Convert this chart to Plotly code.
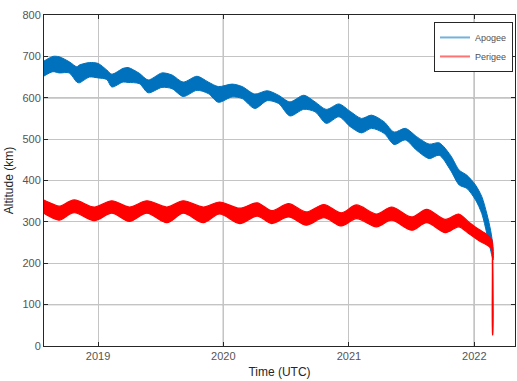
import pandas as pd
import plotly.graph_objects as go

# ---- data (decimal years, km) ----
apogee_upper_t = [2018.566, 2018.64, 2018.69, 2018.77, 2018.83, 2018.85, 2018.93, 2019.00, 2019.07, 2019.11,
                  2019.20, 2019.24, 2019.33, 2019.40, 2019.51, 2019.59, 2019.68, 2019.79, 2019.88, 2019.96,
                  2020.07, 2020.15, 2020.25, 2020.35, 2020.44, 2020.53, 2020.64, 2020.73, 2020.82, 2020.92,
                  2021.01, 2021.10, 2021.18, 2021.28, 2021.36, 2021.45, 2021.54, 2021.64, 2021.72, 2021.81,
                  2021.88, 2021.94, 2022.01, 2022.06, 2022.10, 2022.13, 2022.15, 2022.153]
apogee_upper = [688, 700, 699, 687, 675, 679, 685, 683, 667, 657,
                671, 673, 659, 643, 660, 655, 638, 652, 638, 627,
                633, 627, 609, 617, 606, 590, 606, 590, 572, 585,
                567, 550, 558, 542, 517, 526, 506, 488, 491, 461,
                425, 413, 389, 361, 320, 280, 240, 218]
apogee_lower_t = [2018.566, 2018.64, 2018.69, 2018.77, 2018.83, 2018.85, 2018.93, 2019.00, 2019.07, 2019.11,
                  2019.20, 2019.24, 2019.33, 2019.40, 2019.51, 2019.59, 2019.68, 2019.79, 2019.88, 2019.96,
                  2020.07, 2020.15, 2020.25, 2020.35, 2020.44, 2020.53, 2020.64, 2020.73, 2020.82, 2020.92,
                  2021.01, 2021.10, 2021.18, 2021.28, 2021.36, 2021.45, 2021.54, 2021.64, 2021.72, 2021.81,
                  2021.88, 2021.94, 2022.01, 2022.06, 2022.10, 2022.13, 2022.15]
apogee_lower = [652, 663, 660, 660, 638, 636, 650, 648, 644, 626,
                638, 637, 634, 612, 625, 622, 603, 618, 610, 589,
                602, 598, 574, 593, 586, 556, 572, 566, 538, 554,
                530, 515, 526, 514, 487, 498, 473, 453, 461, 425,
                389, 381, 353, 320, 272, 232, 208]

perigee_upper_t = [2018.566, 2018.64, 2018.69, 2018.81, 2018.97, 2019.11, 2019.25, 2019.39, 2019.55, 2019.68,
                   2019.84, 2019.97, 2020.13, 2020.27, 2020.385, 2020.52, 2020.66, 2020.80, 2020.94, 2021.06,
                   2021.22, 2021.34, 2021.50, 2021.62, 2021.77, 2021.875, 2021.955, 2022.035, 2022.10, 2022.14,
                   2022.145, 2022.147]
perigee_upper = [353, 343, 338, 353, 336, 351, 336, 351, 336, 351,
                 336, 348, 333, 346, 327, 344, 324, 342, 322, 341,
                 319, 336, 312, 330, 306, 319, 300, 282, 270, 256,
                 235, 27]
perigee_lower_t = [2018.566, 2018.64, 2018.69, 2018.81, 2018.97, 2019.11, 2019.25, 2019.39, 2019.55, 2019.68,
                   2019.84, 2019.97, 2020.13, 2020.27, 2020.385, 2020.52, 2020.66, 2020.80, 2020.94, 2021.06,
                   2021.22, 2021.34, 2021.50, 2021.62, 2021.77, 2021.875, 2021.955, 2022.035, 2022.10, 2022.14,
                   2022.144, 2022.146]
perigee_lower = [321, 309, 304, 322, 303, 321, 301, 321, 298, 321,
                 298, 319, 296, 314, 296, 312, 292, 310, 290, 308,
                 288, 304, 280, 298, 274, 288, 272, 255, 244, 234,
                 200, 27]

x_range = [2018.5687, 2022.325]
x_ticks = [2019, 2020, 2021, 2022]
x_ticklabels = ["2019", "2020", "2021", "2022"]
y_ticks = [0, 100, 200, 300, 400, 500, 600, 700, 800]
dark_y = [100, 400, 600]
dark_x = [2020, 2022]


def dec2dt(t):
    y = int(t)
    start = pd.Timestamp(year=y, month=1, day=1)
    days = 366 if (y % 4 == 0) else 365
    return start + pd.Timedelta(days=(t - y) * days)


def band(ut, uv, lt, lv):
    xs = [dec2dt(t) for t in ut] + [dec2dt(t) for t in lt[::-1]]
    ys = list(uv) + list(lv[::-1])
    return xs, ys


BLUE = "#0072BD"
RED = "#FF0000"

fig = go.Figure()
ax, ay = band(apogee_upper_t, apogee_upper, apogee_lower_t, apogee_lower)
fig.add_trace(go.Scatter(x=ax, y=ay, fill="toself", fillcolor=BLUE, mode="lines",
                         line=dict(color=BLUE, width=1, shape="spline", smoothing=0.8),
                         showlegend=False, hoverinfo="skip"))
px_, py_ = band(perigee_upper_t, perigee_upper, perigee_lower_t, perigee_lower)
fig.add_trace(go.Scatter(x=px_, y=py_, fill="toself", fillcolor=RED, mode="lines",
                         line=dict(color=RED, width=1.2, shape="spline", smoothing=0.9),
                         showlegend=False, hoverinfo="skip"))
# legend entries
fig.add_trace(go.Scatter(x=[None], y=[None], mode="lines", name="Apogee",
                         line=dict(color="rgba(0,114,189,0.55)", width=2)))
fig.add_trace(go.Scatter(x=[None], y=[None], mode="lines", name="Perigee",
                         line=dict(color="rgba(255,0,0,0.55)", width=2)))

for v in dark_y:
    fig.add_shape(type="line", xref="paper", x0=0, x1=1, yref="y", y0=v, y1=v,
                  line=dict(color="#4a4a4a", width=1), layer="below")
for v in dark_x:
    d = dec2dt(v)
    fig.add_shape(type="line", xref="x", x0=d, x1=d, yref="paper", y0=0, y1=1,
                  line=dict(color="#4a4a4a", width=1), layer="below")

tickfont = dict(family="Liberation Sans, Arial, sans-serif", size=11, color="#555555")
fig.update_layout(
    width=517, height=381,
    margin=dict(l=44, r=2, t=15, b=35),
    paper_bgcolor="white", plot_bgcolor="white",
    font=dict(family="Liberation Sans, Arial, sans-serif", size=11, color="#262626"),
    legend=dict(x=0.9958, y=0.979, xanchor="right", yanchor="top",
                bgcolor="white", bordercolor="#262626", borderwidth=1,
                font=dict(size=9, color="#505050"), tracegroupgap=0,
                itemwidth=30),
    xaxis=dict(
        type="date",
        range=[dec2dt(x_range[0]), dec2dt(x_range[1])],
        tickvals=[dec2dt(t) for t in x_ticks], ticktext=x_ticklabels,
        ticks="inside", ticklen=4, tickcolor="#262626",
        showline=True, linecolor="#262626", linewidth=1, mirror="allticks",
        showgrid=True, gridcolor="#c4c4c4", gridwidth=1,
        tickfont=tickfont, zeroline=False,
        title=dict(text="Time (UTC)", font=dict(size=12, color="#262626"), standoff=6),
    ),
    yaxis=dict(
        range=[0, 800], tickvals=y_ticks,
        ticks="inside", ticklen=4, tickcolor="#262626",
        showline=True, linecolor="#262626", linewidth=1, mirror="allticks",
        showgrid=True, gridcolor="#c4c4c4", gridwidth=1,
        tickfont=tickfont, zeroline=False,
        title=dict(text="Altitude (km)", font=dict(size=12, color="#262626"), standoff=6),
    ),
)

fig.write_html("out.html")
